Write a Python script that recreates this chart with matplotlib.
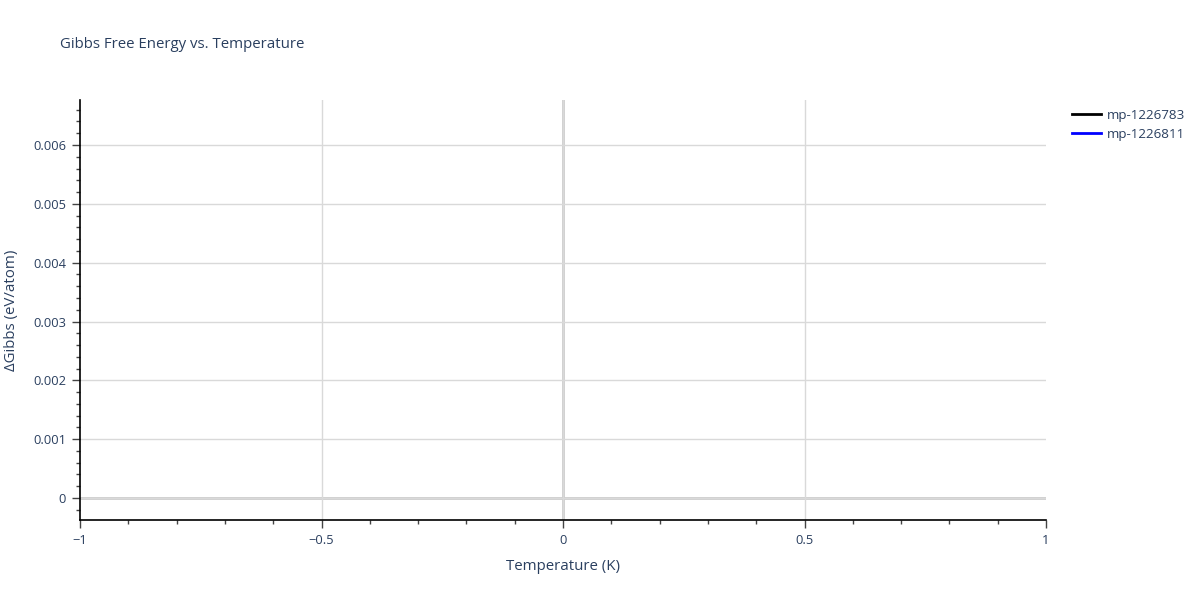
import matplotlib
matplotlib.use("Agg")
import matplotlib.pyplot as plt
from matplotlib.ticker import MultipleLocator, FuncFormatter
import numpy as np

plt.rcParams['font.family'] = ['Open Sans', 'DejaVu Sans']

# data: each structure has only the T=0 reference point
materials = ["mp-1226783", "mp-1226811"]
line_colors = ["black", "blue"]
temperatures = {"mp-1226783": [0.0], "mp-1226811": [0.0]}
delta_gibbs = {"mp-1226783": [0.0], "mp-1226811": [0.0]}

text_color = "#2a3f5f"
grid_color = "#d9d9d9"

fig = plt.figure(figsize=(12, 6), dpi=100)
ax = fig.add_axes([80/1200, 1 - 520/600, 966/1200, 420/600])

for name, col in zip(materials, line_colors):
    ax.plot(temperatures[name], delta_gibbs[name], color=col, lw=2, label=name)

ax.set_xlim(-1, 1)
ax.set_ylim(-0.000374, 0.006765)

ax.xaxis.set_major_locator(MultipleLocator(0.5))
ax.xaxis.set_minor_locator(MultipleLocator(0.1))
ax.yaxis.set_major_locator(MultipleLocator(0.001))
ax.yaxis.set_minor_locator(MultipleLocator(0.0002))

def fmt_x(v, pos):
    if abs(v) < 1e-9:
        return "0"
    s = ("%g" % v)
    return s.replace("-", "\u2212")

def fmt_y(v, pos):
    if abs(v) < 1e-12:
        return "0"
    return "%.3f" % v

ax.xaxis.set_major_formatter(FuncFormatter(fmt_x))
ax.yaxis.set_major_formatter(FuncFormatter(fmt_y))

ax.grid(True, which="major", color=grid_color, lw=1)
ax.axhline(0, color="#cccccc", lw=2, zorder=1)
ax.axvline(0, color="#cccccc", lw=2, zorder=1)

fig.canvas.draw()
# no gridlines on the plot edges
for tick in ax.xaxis.get_major_ticks():
    if abs(abs(tick.get_loc()) - 1) < 1e-9:
        tick.gridline.set_visible(False)

for side in ["top", "right"]:
    ax.spines[side].set_visible(False)
for side in ["left", "bottom"]:
    ax.spines[side].set_color("black")
    ax.spines[side].set_linewidth(1.2)

ax.tick_params(which="major", direction="out", length=6, width=1, color="#444444",
               labelcolor=text_color, labelsize=9.3, pad=4)
ax.tick_params(which="minor", direction="out", length=3, width=1, color="#444444")

ax.set_xlabel("Temperature (K)", color=text_color, fontsize=10.8, labelpad=9)
ax.set_ylabel("\u0394Gibbs (eV/atom)", color=text_color, fontsize=10.8, labelpad=10)

fig.text(60/1200, 1 - 45/600, "Gibbs Free Energy vs. Temperature", color=text_color,
         fontsize=10.8, va="center", ha="left")

leg = ax.legend(loc="upper left", bbox_to_anchor=(1.018, 1.0), frameon=False,
                fontsize=9.6, handlelength=2.2, handletextpad=0.4, labelspacing=0.45,
                borderaxespad=0.25)
for t in leg.get_texts():
    t.set_color(text_color)

fig.savefig("out.png", dpi=100)
